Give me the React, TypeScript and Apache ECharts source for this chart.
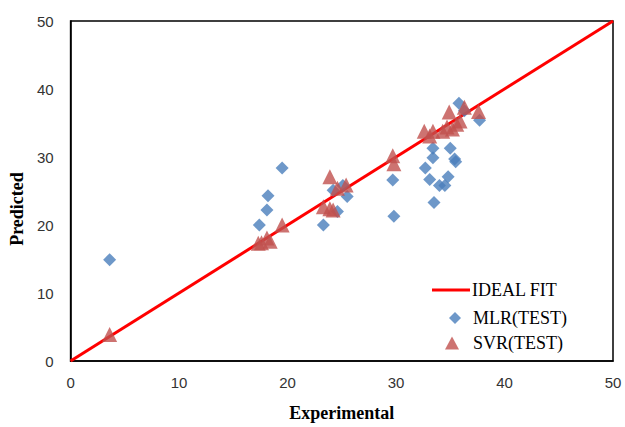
import React, { useEffect, useRef } from "react";
import * as echarts from "echarts";

const idealFit: [number, number][] = [
  [0, 0],
  [50, 50],
];

const mlrTest: [number, number][] = [
  [3.6, 14.9],
  [17.4, 20.0],
  [18.1, 22.2],
  [18.2, 24.3],
  [19.5, 28.4],
  [23.3, 20.0],
  [24.6, 22.0],
  [24.2, 25.1],
  [25.5, 24.2],
  [25.1, 25.8],
  [29.7, 26.6],
  [29.8, 21.3],
  [32.7, 28.4],
  [33.1, 26.7],
  [33.4, 29.9],
  [33.4, 31.3],
  [33.5, 23.3],
  [34.0, 25.8],
  [34.5, 25.8],
  [34.8, 27.1],
  [35.0, 31.3],
  [35.4, 29.7],
  [35.5, 29.3],
  [35.8, 37.9],
  [36.3, 36.8],
  [37.7, 35.4],
];

const svrTest: [number, number][] = [
  [3.6, 3.9],
  [17.3, 17.3],
  [17.6, 17.4],
  [18.1, 18.1],
  [18.4, 17.6],
  [19.5, 20.0],
  [23.3, 22.7],
  [23.9, 22.4],
  [24.2, 22.2],
  [23.9, 27.1],
  [24.6, 25.4],
  [25.4, 25.9],
  [29.7, 30.2],
  [29.8, 29.0],
  [32.6, 33.8],
  [33.1, 33.1],
  [33.4, 33.8],
  [34.3, 33.8],
  [34.7, 34.4],
  [35.2, 34.1],
  [35.6, 34.8],
  [35.9, 35.3],
  [34.9, 36.6],
  [36.3, 37.3],
  [37.6, 36.7],
];

const tickLabelStyle = {
  color: "#333",
  fontFamily: "Liberation Sans",
  fontSize: 15,
};

const legendText = (padLeft: number) => ({
  fontFamily: "Liberation Serif",
  fontSize: 18,
  lineHeight: 20,
  color: "#000",
  padding: [0, 0, 0, padLeft],
});

export default function App() {
  const ref = useRef<HTMLDivElement>(null);
  useEffect(() => {
    if (!ref.current) return;
    const chart = echarts.init(ref.current, null, { renderer: "svg" });
    chart.setOption({
      animation: false,
      backgroundColor: "#fff",
      grid: {
        left: 70,
        right: 12,
        top: 21,
        bottom: 63,
        show: true,
        borderColor: "#000",
        borderWidth: 1.5,
      },
      legend: [
        {
          left: 432,
          top: 280,
          padding: 0,
          itemWidth: 38,
          itemHeight: 3,
          icon: "rect",
          textStyle: legendText(-3),
          data: ["IDEAL FIT"],
        },
        {
          left: 449,
          top: 308,
          padding: 0,
          itemWidth: 12,
          itemHeight: 12,
          icon: "diamond",
          textStyle: legendText(7),
          data: ["MLR(TEST)"],
        },
        {
          left: 445,
          top: 333,
          padding: 0,
          itemWidth: 14,
          itemHeight: 13,
          icon: "triangle",
          textStyle: legendText(9),
          data: ["SVR(TEST)"],
        },
      ],
      xAxis: {
        type: "value",
        min: 0,
        max: 50,
        interval: 10,
        name: "Experimental",
        nameLocation: "middle",
        nameGap: 43,
        nameTextStyle: {
          fontFamily: "Liberation Serif",
          fontWeight: "bold",
          fontSize: 18,
          color: "#000",
        },
        axisLine: { show: true, lineStyle: { color: "#000", width: 1.5 } },
        axisTick: { show: false },
        splitLine: { show: false },
        axisLabel: { ...tickLabelStyle, margin: 14 },
      },
      yAxis: {
        type: "value",
        min: 0,
        max: 50,
        interval: 10,
        name: "Predicted",
        nameLocation: "middle",
        nameGap: 40,
        nameTextStyle: {
          fontFamily: "Liberation Serif",
          fontWeight: "bold",
          fontSize: 18,
          color: "#000",
          padding: [0, 0, 0, -36],
        },
        axisLine: { show: true, lineStyle: { color: "#000", width: 1.5 } },
        axisTick: { show: false },
        splitLine: { show: false },
        axisLabel: { ...tickLabelStyle, margin: 17 },
      },
      series: [
        {
          name: "IDEAL FIT",
          type: "line",
          data: idealFit,
          symbol: "none",
          lineStyle: { color: "#FF0000", width: 3 },
          itemStyle: { color: "#FF0000" },
          z: 1,
        },
        {
          name: "MLR(TEST)",
          type: "scatter",
          data: mlrTest,
          symbol: "diamond",
          symbolSize: 13,
          itemStyle: { color: "#4A7EBB" },
          z: 2,
        },
        {
          name: "SVR(TEST)",
          type: "scatter",
          data: svrTest,
          symbol: "triangle",
          symbolSize: 15,
          itemStyle: { color: "#C0504D" },
          z: 3,
        },
      ],
    });
    return () => chart.dispose();
  }, []);
  return <div ref={ref} style={{ width: 625, height: 427, position: "absolute", left: 0, top: 0 }} />;
}
